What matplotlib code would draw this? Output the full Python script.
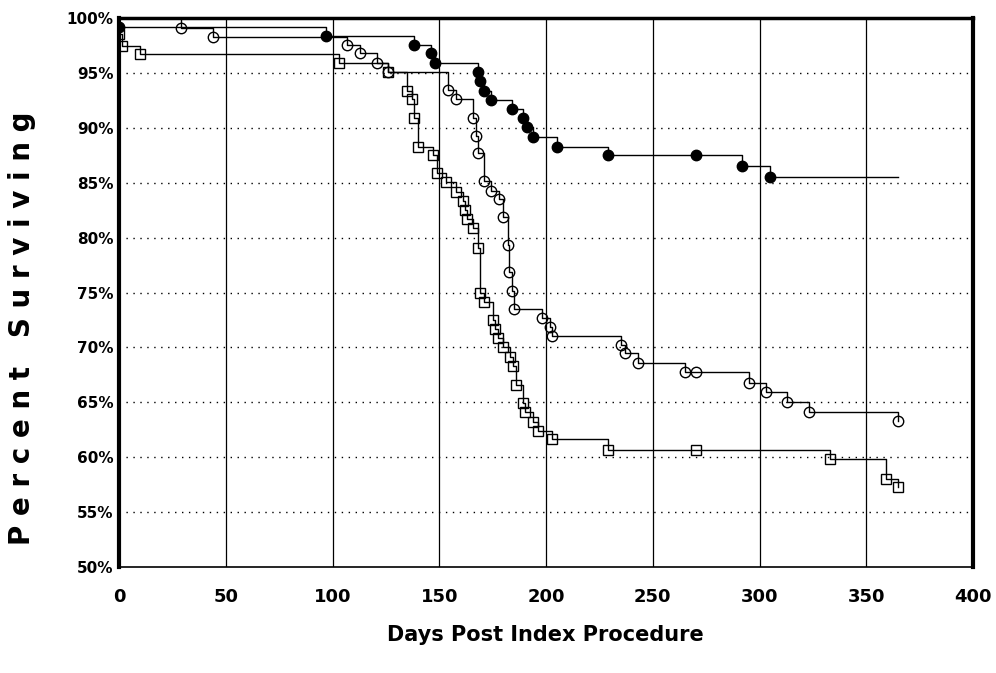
import numpy as np
import matplotlib.pyplot as plt

# Kaplan-Meier style survival curves
filled_days = [0, 97, 138, 146, 148, 168, 169, 171, 174, 184, 189, 191, 194, 205, 229, 270, 292, 305]
filled_surv = [99.2, 98.4, 97.6, 96.8, 95.9, 95.1, 94.3, 93.4, 92.5, 91.7, 90.9, 90.1, 89.2, 88.3, 87.5, 87.5, 86.5, 85.5]
filled_end = 365

open_days = [29, 44, 107, 113, 121, 126, 154, 158, 166, 167, 168, 171, 174, 178, 180, 182,
             182.5, 184, 185, 198, 202, 203, 235, 237, 243, 265, 270, 295, 303, 313, 323, 365]
open_surv = [99.1, 98.3, 97.6, 96.8, 95.9, 95.1, 93.5, 92.6, 90.9, 89.3, 87.7, 85.2, 84.3, 83.5, 81.9, 79.3,
             76.9, 75.1, 73.5, 72.7, 71.9, 71.0, 70.2, 69.5, 68.6, 67.8, 67.8, 66.8, 65.9, 65.0, 64.1, 63.3]

square_days = [0, 1.5, 10, 103, 126, 135, 137, 138, 140, 147, 149, 153, 158, 161, 162, 163, 166, 168, 169,
               171, 175, 176, 177.5, 180, 183, 184.5, 186, 189, 190, 194, 196, 203, 229, 270, 333, 359, 365]
square_surv = [98.6, 97.5, 96.7, 95.9, 95.1, 93.4, 92.6, 90.9, 88.3, 87.5, 85.9, 85.1, 84.2, 83.3, 82.5, 81.7,
               80.9, 79.1, 75.0, 74.1, 72.5, 71.7, 70.9, 70.0, 69.1, 68.3, 66.6, 64.9, 64.1, 63.2, 62.4, 61.7,
               60.7, 60.7, 59.8, 58.0, 57.3]

x_ticks = [0, 50, 100, 150, 200, 250, 300, 350, 400]
y_ticks = [50, 55, 60, 65, 70, 75, 80, 85, 90, 95, 100]

plt.rcParams['font.family'] = ['DejaVu Sans']

fig = plt.figure(figsize=(9.96, 6.73), dpi=100)
ax = fig.add_axes([0.1195, 0.1575, 0.8575, 0.8155])


def km_line(days, surv, end=None):
    t = [0] + list(days)
    s = [100] + list(surv)
    if end is not None:
        t.append(end)
        s.append(s[-1])
    ax.step(t, s, where='post', color='black', lw=1.0, zorder=3)


km_line(filled_days, filled_surv, filled_end)
km_line(open_days, open_surv)
km_line(square_days, square_surv)

ax.plot(filled_days, filled_surv, 'o', ms=7.5, mfc='black', mec='black', zorder=4)
ax.plot(open_days, open_surv, 'o', ms=7.5, mfc='none', mec='black', mew=1.0, zorder=4)
ax.plot(square_days, square_surv, 's', ms=7, mfc='none', mec='black', mew=1.0, zorder=4)

ax.set_xlim(0, 400)
ax.set_ylim(50, 100)
ax.set_xticks(x_ticks)
ax.set_yticks(y_ticks)
ax.set_xticklabels([str(v) for v in x_ticks], fontsize=13, fontweight='bold')
ax.set_yticklabels([f'{v}%' for v in y_ticks], fontsize=11, fontweight='bold')
ax.tick_params(axis='x', length=0, pad=15)
ax.tick_params(axis='y', length=0, pad=4)

# solid vertical grid, dotted horizontal grid
for x in x_ticks[1:-1]:
    ax.axvline(x, color='black', lw=0.9, zorder=1)
for y in y_ticks[1:-1]:
    ax.axhline(y, color='black', lw=1.0, ls=(0, (1, 4)), zorder=1)

ax.spines['left'].set_linewidth(3)
ax.spines['right'].set_linewidth(3)
ax.spines['top'].set_linewidth(2.5)
ax.spines['bottom'].set_linewidth(1.2)

fig.text(0.022, 0.512, 'P e r c e n t   S u r v i v i n g', rotation=90, ha='center', va='center',
         fontsize=20, fontweight='heavy')
fig.text(0.548, 0.057, 'Days Post Index Procedure', ha='center', va='center',
         fontsize=15, fontweight='bold')

fig.savefig('out.png', dpi=100)
